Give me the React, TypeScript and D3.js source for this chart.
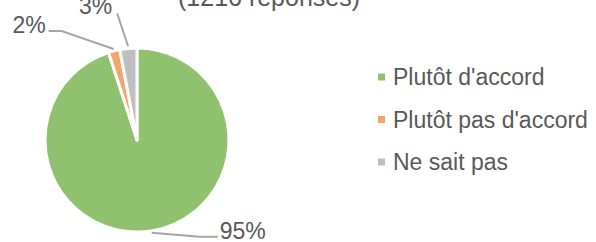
import React, { useEffect, useRef } from "react";
import * as d3 from "d3";

// survey answers
const categories = ["Plutôt d'accord", "Plutôt pas d'accord", "Ne sait pas"];
const values = [95, 2, 3];
const labels = ["95%", "2%", "3%"];
const colors = ["#8fc16e", "#f4a46c", "#bfbfbf"];
const title = "(1216 réponses)";

const W = 596,
  H = 242;

// leader line layout per slice: elbow and end offsets from the slice edge, text side
const leaders = [
  { elbow: [48, 4], end: [66, 4], anchor: "start", gap: 2, dy: 2 },
  { elbow: [-52, -18], end: [-65, -18], anchor: "end", gap: -3, dy: 2 },
  { elbow: [-6, -18], end: [-11, -33], anchor: "end", gap: -5, dy: 1 },
];

export default function App() {
  const ref = useRef<SVGSVGElement>(null);

  useEffect(() => {
    const svg = d3.select(ref.current);
    svg.selectAll("*").remove();

    const cx = 137,
      cy = 140,
      r = 92;

    const pie = d3
      .pie<number>()
      .sort(null)
      .value((d) => d);
    const arcs = pie(values);
    const arc = d3.arc<d3.PieArcDatum<number>>().innerRadius(0).outerRadius(r);
    const edge = d3
      .arc<d3.PieArcDatum<number>>()
      .innerRadius(r + 2)
      .outerRadius(r + 2);

    const g = svg.append("g").attr("transform", `translate(${cx},${cy})`);

    g.selectAll("path.slice")
      .data(arcs)
      .enter()
      .append("path")
      .attr("class", "slice")
      .attr("d", arc)
      .attr("fill", (d, i) => colors[i])
      .attr("stroke", "#fff")
      .attr("stroke-width", 3)
      .attr("stroke-linejoin", "round");

    const font = "'Liberation Sans', Arial, sans-serif";

    arcs.forEach((d, i) => {
      const [sx, sy] = edge.centroid(d);
      const l = leaders[i];
      const ex = sx + l.elbow[0],
        ey = sy + l.elbow[1];
      const tx = sx + l.end[0],
        ty = sy + l.end[1];
      g.append("path")
        .attr("d", d3.line()([[sx, sy], [ex, ey], [tx, ty]]))
        .attr("fill", "none")
        .attr("stroke", "#a6a6a6")
        .attr("stroke-width", 2);
      g.append("text")
        .attr("x", tx + l.gap)
        .attr("y", ty + l.dy)
        .attr("text-anchor", l.anchor)
        .attr("font-family", font)
        .attr("font-size", 23)
        .attr("fill", "#595959")
        .text(labels[i]);
    });

    svg
      .append("text")
      .attr("x", 178)
      .attr("y", 6)
      .attr("font-family", font)
      .attr("font-size", 25)
      .attr("fill", "#595959")
      .text(title);

    // legend
    const ly = d3
      .scalePoint<string>()
      .domain(categories)
      .range([77, 162]);
    const legend = svg
      .append("g")
      .selectAll("g")
      .data(categories)
      .enter()
      .append("g")
      .attr("transform", (d) => `translate(378,${ly(d)})`);
    legend
      .append("rect")
      .attr("x", 0)
      .attr("y", -3.5)
      .attr("width", 7)
      .attr("height", 7)
      .attr("fill", (d, i) => colors[i]);
    legend
      .append("text")
      .attr("x", 15)
      .attr("y", 8)
      .attr("font-family", font)
      .attr("font-size", 23)
      .attr("fill", "#595959")
      .text((d) => d);
  }, []);

  return (
    <div style={{ position: "absolute", left: 0, top: 0 }}>
      <svg ref={ref} width={W} height={H} style={{ display: "block", background: "#fff" }} />
    </div>
  );
}
